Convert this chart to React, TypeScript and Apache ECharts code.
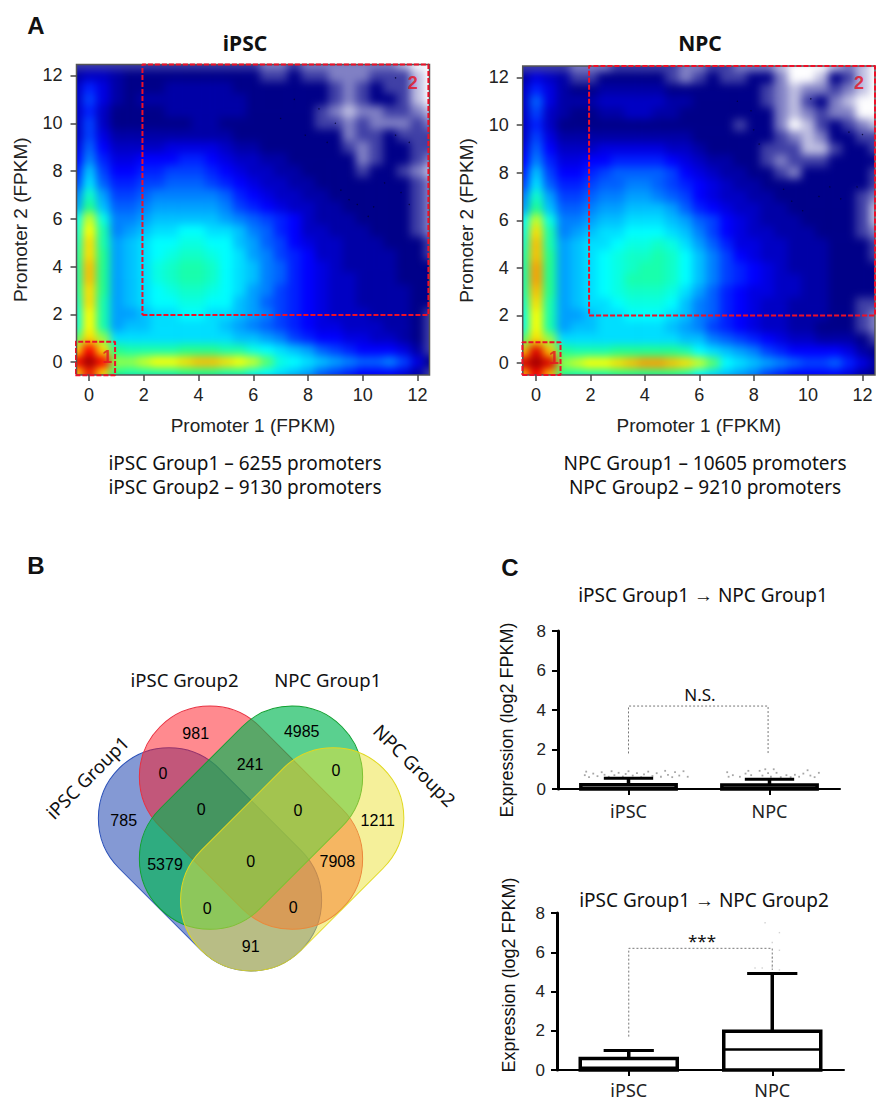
import React, { useEffect, useRef } from "react";
import * as echarts from "echarts";

// density levels (base 36, 0 = white ... z = dark red); rows y=12.5 -> -0.5, columns x=-0.5 -> 12.5
const ipscRows = [
  "333333333333332232222222100",
  "566544444444443343322233310",
  "697544455555444444432343310",
  "6a7545555555544444432344310",
  "696444455555544444321223321",
  "6a6444444554444444332322232",
  "6a7555555555444444442334333",
  "7b8666677776554444443234433",
  "8c9778889987665544444234432",
  "9ea8899aaa98766554444344321",
  "afb99aabbba9876655444444432",
  "cidaabcccccb987665544444432",
  "dkebbcdddddca98766554444432",
  "gnhccdeeeeedcba986555444432",
  "hojcdeffggffecb986655544432",
  "ipjdefgghhggedba87665554443",
  "jpkdefghiihgfdca98665555443",
  "jqkdefhijjigfecb98765555444",
  "jqkdefhijjigfecb98766555444",
  "jpkdefghiihgfdca98766555544",
  "ipjdefgghhggedba98766555544",
  "hojddeffggffedca98766655543",
  "hojdeefffffedcba98776665543",
  "lpmfffffffffeedca9887766543",
  "pwpkjjjjkkkjjhgfedba9888753",
  "wzwmmnoopqqponlhgfedcbbca74",
  "pvpkjjjjkkkjjhgfedba9888753",
];
const npcRows = [
  "333322233333223322210001210",
  "576533444443234334420014310",
  "697544555554444444321223210",
  "6b7555666665544444321342100",
  "6a6544556655444444421232200",
  "696444444444444434420134321",
  "6a7555555555544444432124433",
  "7b8666777776654444333113443",
  "8c9778899998765544323334444",
  "9ea889abbbba876554432444443",
  "afb99abbccba987655444444443",
  "cidaabccddcba87665544444432",
  "dkebbcddeeedb98766554444431",
  "gnhccdeefffedba876555444431",
  "hpjcdeffgggfeca876655544432",
  "iqjdeffghhihfdb977665554443",
  "jqkdefghiijigeca87665554443",
  "jrkdefghijjigeca98765554444",
  "jrkdefghjjjigeca98766554444",
  "jqkdefghiiihfdb987766554444",
  "ipjdeffghhhgecb987665554433",
  "hojddeffgggfecb987665554432",
  "hojdeefffffedca987665544432",
  "lpmfffffffffeecba9876655543",
  "qxqkjjjkkkkkjgfedca98888754",
  "xzxmnoopqrrqpnlgfedcbaab975",
  "qwqkjjjkkkkkjgfedca98888754",
];
const densityColors = ["#ffffff", "#000088", "#0000ff", "#0080ff", "#00ffff", "#20ff90", "#ffff00", "#ff8000", "#ff0000", "#800000"];
const axisTicks = [0, 2, 4, 6, 8, 10, 12];
const iPSCBox1 = [[-0.5, -0.55], [0.95, -0.55], [0.95, 0.85], [-0.5, 0.85], [-0.5, -0.55]];
const iPSCBox2 = [[1.95, 1.97], [12.4, 1.97], [12.4, 12.46], [1.95, 12.46], [1.95, 1.97]];
const npcBox1 = [[-0.5, -0.5], [0.9, -0.5], [0.9, 0.88], [-0.5, 0.88], [-0.5, -0.5]];
const npcBox2 = [[1.95, 2.0], [12.46, 2.0], [12.46, 12.48], [1.95, 12.48], [1.95, 2.0]];
const iPSCMarks = [[0.66, 0.2, "1"], [11.83, 11.7, "2"]];
const npcMarks = [[0.66, 0.2, "1"], [11.87, 11.75, "2"]];
const iPSCSpecks = [[7, 10.2], [7.5, 11], [7.9, 9.5], [8.4, 10.6], [8.7, 9.2], [9, 10], [9.2, 7.2], [9.5, 6.8], [9.8, 6.6], [10.2, 6.1], [10.4, 6.5], [10.8, 7.5], [11.4, 7.1], [11.7, 6.6], [11.2, 9.5], [11.7, 9.2], [11.2, 11.9]];
const npcSpecks = [[7.4, 11], [7.9, 10.6], [8, 9.8], [8.2, 9.2], [9.1, 7.3], [9.4, 6.8], [9.8, 6.4], [10.4, 7], [10.8, 7.4], [11.2, 6.9], [11.8, 7.4], [11.5, 9.7], [12, 9.6], [10.1, 11.1]];

const boxLabels = ["iPSC", "NPC"];
// index, min, q1, median, q3, max
const boxes1 = [[0, 0, 0, 0.05, 0.22, 0.55], [1, 0, 0, 0.05, 0.2, 0.5]];
const boxes2 = [[0, 0, 0, 0.12, 0.58, 1.0], [1, 0, 0, 1.05, 1.98, 4.92]];
const bracket1 = [[0, 1.8], [0, 4.2], [0.99, 4.2], [0.99, 1.8]];
const bracket2 = [[0, 1.7], [0, 6.2], [1, 6.2], [1, 5.1]];
const outliers1 = [
  [-0.31, 0.7], [-0.3, 0.88], [-0.28, 0.6], [-0.25, 0.78], [-0.22, 0.65], [-0.19, 0.85], [-0.17, 0.72], [-0.14, 0.62], [-0.12, 0.9], [-0.1, 0.7], [-0.07, 0.82], [-0.04, 0.63], [-0.02, 0.76], [0, 0.9], [0.03, 0.68], [0.06, 0.8], [0.09, 0.6], [0.11, 0.74], [0.14, 0.88], [0.17, 0.66], [0.2, 0.8], [0.23, 0.62], [0.26, 0.92], [0.28, 0.72], [0.31, 0.6], [0.33, 0.85], [0.36, 0.68], [0.39, 0.9], [0.42, 0.62],
  [0.7, 0.85], [0.71, 0.62], [0.74, 0.7], [0.79, 0.62], [0.83, 0.78], [0.85, 0.92], [0.87, 0.7], [0.93, 0.92], [0.95, 0.68], [0.97, 1.0], [0.99, 0.8], [1.01, 0.62], [1.03, 1.0], [1.05, 0.82], [1.08, 0.6], [1.12, 0.7], [1.15, 0.6], [1.18, 0.72], [1.21, 0.62], [1.24, 0.78], [1.27, 0.95], [1.29, 0.68], [1.32, 0.6], [1.35, 0.82],
];
const outliers2 = [[0.95, 7.5], [1.05, 7.0], [1, 6.5], [1.05, 6.1], [1, 5.7], [1, 5.25], [0.88, 5.2], [0.93, 5.2], [1.05, 5.1]];

const vennCounts = ["981", "4985", "0", "241", "0", "785", "0", "0", "1211", "5379", "0", "7908", "0", "0", "91"];
const vennCountSpots = [[195.7, 733.3], [301.7, 731.7], [163, 773], [250, 764], [336, 770], [123.7, 820.7], [201.3, 809.3], [298, 810.3], [377.7, 820], [165, 864], [250.7, 861.7], [337.3, 861], [207.3, 908.3], [293.3, 907.7], [250.7, 946.7]];
const vennSets = [
  { fill: "rgba(9,51,169,0.5)", stroke: "#2a50b8", x: 210, y: 859.3, rot: -Math.PI / 4 },
  { fill: "rgba(255,21,31,0.5)", stroke: "#e83040", x: 251, y: 817.7, rot: -Math.PI / 4 },
  { fill: "rgba(1,183,83,0.65)", stroke: "#10a030", x: 251, y: 817.7, rot: Math.PI / 4 },
  { fill: "rgba(235,225,53,0.5)", stroke: "#e0d820", x: 292.2, y: 859.3, rot: Math.PI / 4 },
];

const SANS = "'Liberation Sans', Arial, sans-serif";
const NOTO = "'Noto Sans', sans-serif";

const gridA = { left: 76.5, top: 64.5, width: 353, height: 310.5 };
const gridB = { left: 522.7, top: 66, width: 352.3, height: 309 };
const rangeA = { xMin: -0.46, xMax: 12.44, yMin: -0.54, yMax: 12.46 };
const rangeB = { xMin: -0.49, xMax: 12.46, yMin: -0.5, yMax: 12.48 };

function HeatLayer({ rows, grid, range }: any) {
  const ref = useRef<HTMLDivElement>(null);
  const sx = grid.width / (range.xMax - range.xMin);
  const sy = grid.height / (range.yMax - range.yMin);
  const innerStyle: React.CSSProperties = {
    position: "absolute",
    left: (-0.75 - range.xMin) * sx,
    top: (range.yMax - 12.75) * sy,
    width: 13.5 * sx,
    height: 13.5 * sy,
    filter: "blur(4.5px)",
  };
  useEffect(() => {
    const chart = echarts.init(ref.current!, null, { renderer: "svg" });
    const xs = rows[0].split("").map((_: string, i: number) => String(-0.5 + i * 0.5));
    const ys = rows.map((_: string, i: number) => String(12.5 - i * 0.5));
    const data: number[][] = [];
    rows.forEach((r: string, j: number) => r.split("").forEach((c, i) => data.push([i, j, parseInt(c, 36)])));
    chart.setOption({
      animation: false,
      grid: { left: 0, right: 0, top: 0, bottom: 0 },
      xAxis: { type: "category", data: xs, show: false },
      yAxis: { type: "category", data: ys, show: false, inverse: true },
      visualMap: { show: false, min: 0, max: 36, inRange: { color: densityColors } },
      series: [{ type: "heatmap", data, progressive: 0, silent: true, itemStyle: { borderWidth: 0 } }],
    });
    return () => chart.dispose();
  }, []);
  return (
    <div style={{ position: "absolute", left: grid.left, top: grid.top, width: grid.width, height: grid.height, overflow: "hidden", background: "#000088" }}>
      <div ref={ref} style={innerStyle} />
    </div>
  );
}

function renderBox(params: any, api: any) {
  const x = api.value(0);
  const [lo, q1, med, q3, hi] = [api.value(1), api.value(2), api.value(3), api.value(4), api.value(5)];
  const hw = 0.338;
  const cw = 0.175;
  const tl = api.coord([x - hw, q3]);
  const br = api.coord([x + hw, q1]);
  const top = api.coord([x, hi]);
  const bot = api.coord([x, q3]);
  const capL = api.coord([x - cw, hi]);
  const capR = api.coord([x + cw, hi]);
  const mL = api.coord([x - hw, med]);
  const mR = api.coord([x + hw, med]);
  const line = (a: number[], b: number[], w: number) => ({
    type: "line",
    shape: { x1: a[0], y1: a[1], x2: b[0], y2: b[1] },
    style: { stroke: "#000", lineWidth: w },
  });
  return {
    type: "group",
    children: [
      line(top, bot, 3.5),
      line(capL, capR, 3),
      { type: "rect", shape: { x: tl[0], y: tl[1], width: br[0] - tl[0], height: br[1] - tl[1] }, style: { fill: "#fff", stroke: "#000", lineWidth: 3.5 } },
      line(mL, mR, 2.5),
    ],
  };
}

const text = (t: string, x: number, y: number, size: number, family = NOTO, extra: any = {}, rotation = 0) => ({
  type: "text",
  x,
  y,
  rotation,
  z: 20,
  style: { text: t, fontSize: size, fontFamily: family, fill: "#111", textAlign: "center", textVerticalAlign: "middle", ...extra },
});

const densityAxis = (gridIndex: number, name: string, range: number[], gap: number, margin: number) => ({
  type: "value",
  gridIndex,
  min: range[0],
  max: range[1],
  name,
  nameLocation: "middle",
  nameGap: gap,
  nameTextStyle: { fontFamily: SANS, fontSize: 19, color: "#222" },
  splitLine: { show: false },
  axisLine: { show: false, onZero: false },
  axisTick: { show: true, length: 6, customValues: axisTicks, lineStyle: { color: "#444", width: 1.5 } },
  axisLabel: { show: true, customValues: axisTicks, margin, fontFamily: SANS, fontSize: 18, color: "#222", formatter: (v: number) => String(v) },
});

function App() {
  const ref = useRef<HTMLDivElement>(null);
  useEffect(() => {
    const chart = echarts.init(ref.current!, null, { renderer: "svg" });
    const frame = (g: any) => ({ ...g, show: true, borderColor: "#555", borderWidth: 1.5, backgroundColor: "transparent" });
    const expAxis = (gridIndex: number) => ({
      type: "value",
      gridIndex,
      min: 0,
      max: 8,
      interval: 2,
      splitLine: { show: false },
      axisLine: { show: true, onZero: false, lineStyle: { color: "#000", width: 3 } },
      axisTick: { show: true, length: 6, lineStyle: { color: "#000", width: 2 } },
      axisLabel: { fontFamily: SANS, fontSize: 17, color: "#222", margin: 12 },
    });
    const catAxis = (gridIndex: number, margin: number) => ({
      type: "category",
      gridIndex,
      data: boxLabels,
      axisLine: { show: true, onZero: false, lineStyle: { color: "#000", width: 2 } },
      axisTick: { show: true, alignWithLabel: true, length: 6, lineStyle: { color: "#000", width: 2 } },
      axisLabel: { fontFamily: NOTO, fontSize: 18, lineHeight: 16, color: "#222", margin },
    });
    const hiddenX = (gridIndex: number) => ({ type: "value", gridIndex, show: false, min: -0.5, max: 1.5 });
    const dashed = (xAxisIndex: number, yAxisIndex: number, data: any, color = "#ee1028", width = 2) => ({
      type: "line",
      xAxisIndex,
      yAxisIndex,
      data,
      symbol: "none",
      clip: false,
      silent: true,
      z: 5,
      lineStyle: { color, width, type: color === "#ee1028" ? [5, 2] : [2, 2] },
    });
    const marks = (i: number, data: any) => ({
      type: "scatter",
      xAxisIndex: i,
      yAxisIndex: i,
      data,
      symbolSize: 1,
      itemStyle: { color: "transparent" },
      silent: true,
      z: 6,
      label: { show: true, position: "inside", formatter: (p: any) => p.value[2], fontFamily: SANS, fontWeight: "bold", fontSize: 18, color: "#e8101f" },
    });
    const specks = (i: number, data: any) => ({
      type: "scatter",
      xAxisIndex: i,
      yAxisIndex: i,
      data,
      symbolSize: 1.4,
      itemStyle: { color: "#000030" },
      silent: true,
      z: 4,
    });
    const dots = (xAxisIndex: number, yAxisIndex: number, data: any, color: string, size: number) => ({
      type: "scatter",
      xAxisIndex,
      yAxisIndex,
      data,
      symbol: "rect",
      symbolSize: size,
      itemStyle: { color },
      silent: true,
      z: 1,
    });
    const boxSeries = (xAxisIndex: number, yAxisIndex: number, data: any) => ({
      type: "custom",
      xAxisIndex,
      yAxisIndex,
      data,
      renderItem: renderBox,
      encode: { x: 0, y: [1, 2, 3, 4, 5] },
      silent: true,
      z: 3,
    });
    const vennShapes = vennSets.map((s) => ({
      type: "rect",
      x: s.x,
      y: s.y,
      rotation: s.rot,
      shape: { x: -128.65, y: -70.65, width: 257.3, height: 141.3, r: 70.65 },
      style: { fill: s.fill, stroke: s.stroke, lineWidth: 1 },
      z: 10,
    }));
    chart.setOption({
      animation: false,
      backgroundColor: "transparent",
      grid: [
        frame(gridA),
        frame(gridB),
        { left: 558, top: 631, width: 282, height: 158 },
        { left: 557, top: 913, width: 287, height: 157 },
      ],
      xAxis: [
        densityAxis(0, "Promoter 1 (FPKM)", [rangeA.xMin, rangeA.xMax], 41, 11),
        densityAxis(1, "Promoter 1 (FPKM)", [rangeB.xMin, rangeB.xMax], 41, 11),
        catAxis(2, 14),
        hiddenX(2),
        catAxis(3, 12),
        hiddenX(3),
      ],
      yAxis: [
        densityAxis(0, "Promoter 2 (FPKM)", [rangeA.yMin, rangeA.yMax], 47, 14),
        densityAxis(1, "Promoter 2 (FPKM)", [rangeB.yMin, rangeB.yMax], 47, 14),
        expAxis(2),
        expAxis(3),
      ],
      series: [
        dashed(0, 0, iPSCBox1),
        dashed(0, 0, iPSCBox2),
        dashed(1, 1, npcBox1),
        dashed(1, 1, npcBox2),
        marks(0, iPSCMarks),
        marks(1, npcMarks),
        specks(0, iPSCSpecks),
        specks(1, npcSpecks),
        dots(3, 2, outliers1, "#909090", 1.8),
        dots(5, 3, outliers2, "#c8c8c8", 1.4),
        dashed(3, 2, bracket1, "#777", 1),
        dashed(5, 3, bracket2, "#777", 1),
        boxSeries(3, 2, boxes1),
        boxSeries(5, 3, boxes2),
      ],
      graphic: [
        text("A", 36, 25, 24, SANS, { fontWeight: "bold" }),
        text("B", 36, 565, 24, SANS, { fontWeight: "bold" }),
        text("C", 510, 567, 24, SANS, { fontWeight: "bold" }),
        text("iPSC", 245, 43, 21, NOTO, { fontWeight: "bold" }),
        text("NPC", 700, 43, 21, NOTO, { fontWeight: "bold" }),
        text("iPSC Group1 – 6255 promoters", 245, 463, 19),
        text("iPSC Group2 – 9130 promoters", 245, 487, 19),
        text("NPC Group1 – 10605 promoters", 705, 463, 19),
        text("NPC Group2 – 9210 promoters", 705, 487, 19),
        ...vennShapes,
        text("iPSC Group2", 184.5, 679, 18.5),
        text("NPC Group1", 327.7, 679, 18.5),
        text("iPSC Group1", 87, 777, 18.5, NOTO, {}, Math.PI / 4),
        text("NPC Group2", 415, 765, 18.5, NOTO, {}, -Math.PI / 4),
        ...vennCounts.map((c, i) => text(c, vennCountSpots[i][0], vennCountSpots[i][1], 16, SANS, { fill: "#000" })),
        text("iPSC Group1 → NPC Group1", 703, 595, 19),
        text("iPSC Group1 → NPC Group2", 704, 900, 19),
        text("Expression (log2 FPKM)", 507, 720, 18, SANS, {}, Math.PI / 2),
        text("Expression (log2 FPKM)", 509, 975, 18, SANS, {}, Math.PI / 2),
        text("N.S.", 700, 694, 17),
        text("***", 702, 940, 17),
      ],
    });
    return () => chart.dispose();
  }, []);
  return (
    <div style={{ position: "absolute", left: 0, top: 0, width: 877, height: 1102, background: "#fff", overflow: "hidden" }}>
      <HeatLayer rows={ipscRows} grid={gridA} range={rangeA} />
      <HeatLayer rows={npcRows} grid={gridB} range={rangeB} />
      <div ref={ref} style={{ position: "absolute", left: 0, top: 0, width: 877, height: 1102 }} />
    </div>
  );
}

export default App;
